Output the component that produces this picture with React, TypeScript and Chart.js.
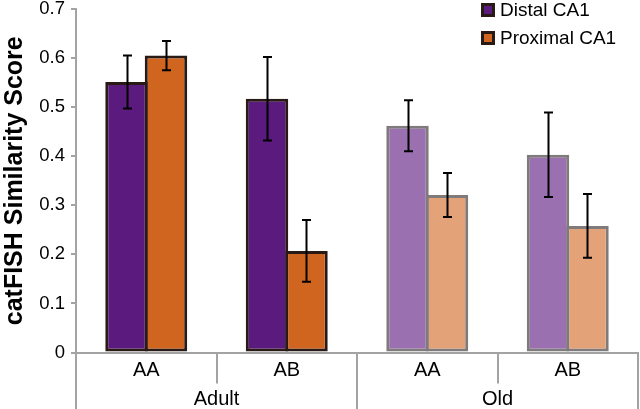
import React, { useEffect, useRef } from "react";
import { Chart, registerables } from "chart.js";

Chart.register(...registerables);

const categories = ["AA", "AB", "AA", "AB"];
const groups = ["Adult", "Old"];
const seriesNames = ["Distal CA1", "Proximal CA1"];
const distal = [0.551, 0.517, 0.462, 0.403];
const distalErr = [0.054, 0.085, 0.052, 0.086];
const proximal = [0.605, 0.207, 0.321, 0.258];
const proximalErr = [0.03, 0.063, 0.045, 0.065];
const yTicks = [0, 0.1, 0.2, 0.3, 0.4, 0.5, 0.6, 0.7];

const FONT = "'Liberation Sans', Arial, sans-serif";
const AXIS = "#a3a3a3";
const distalFill = ["#5b1a7e", "#5b1a7e", "#9b70b1", "#9b70b1"];
const proximalFill = ["#d0651f", "#d0651f", "#e3a278", "#e3a278"];
const borderCols = ["#2a1a16", "#2a1a16", "#7f7b7b", "#7f7b7b"];

const errs = [distalErr, proximalErr];

const errorBarPlugin = {
  id: "errorBars",
  afterDatasetsDraw(chart: any) {
    const ctx = chart.ctx;
    const y = chart.scales.y;
    ctx.save();
    ctx.strokeStyle = "#000";
    ctx.lineWidth = 2;
    chart.data.datasets.forEach((ds: any, di: number) => {
      const meta = chart.getDatasetMeta(di);
      meta.data.forEach((bar: any, i: number) => {
        const v = ds.data[i];
        const e = errs[di][i];
        const yt = y.getPixelForValue(v + e);
        const yb = y.getPixelForValue(v - e);
        const x = Math.round(bar.x) + 0.5;
        ctx.beginPath();
        ctx.moveTo(x, yt);
        ctx.lineTo(x, yb);
        ctx.moveTo(x - 4.5, yt);
        ctx.lineTo(x + 4.5, yt);
        ctx.moveTo(x - 4.5, yb);
        ctx.lineTo(x + 4.5, yb);
        ctx.stroke();
      });
    });
    ctx.restore();
  },
};

const framePlugin = {
  id: "frame",
  afterDraw(chart: any) {
    const ctx = chart.ctx;
    const area = chart.chartArea;
    const H = chart.height;
    const catW = (area.right - area.left) / categories.length;
    ctx.save();
    ctx.strokeStyle = AXIS;
    ctx.lineWidth = 2;
    for (let i = 0; i <= categories.length; i++) {
      const x = Math.round(area.left + i * catW);
      const long = i % 2 === 0;
      ctx.beginPath();
      ctx.moveTo(x, area.bottom);
      ctx.lineTo(x, long ? H : area.bottom + 31);
      ctx.stroke();
    }
    ctx.restore();

    // legend
    const items = [
      { label: seriesNames[0], fill: distalFill[0], y: 10 },
      { label: seriesNames[1], fill: proximalFill[0], y: 38 },
    ];
    ctx.save();
    items.forEach((it) => {
      ctx.fillStyle = "#2a1a16";
      ctx.fillRect(481, it.y - 7, 14, 14);
      ctx.fillStyle = it.fill;
      ctx.fillRect(484, it.y - 4, 8, 8);
      ctx.fillStyle = "#000";
      ctx.font = `19px ${FONT}`;
      ctx.textBaseline = "middle";
      ctx.textAlign = "left";
      ctx.fillText(it.label, 500, it.y + 1);
    });
    ctx.restore();
  },
};

export default function App() {
  const ref = useRef<HTMLCanvasElement>(null);
  useEffect(() => {
    document.body.style.margin = "0";
    const chart = new Chart(ref.current as HTMLCanvasElement, {
      type: "bar",
      data: {
        labels: categories,
        datasets: [
          {
            label: seriesNames[0],
            data: distal,
            backgroundColor: distalFill,
            borderColor: borderCols,
            borderWidth: 3,
            borderSkipped: false,
          },
          {
            label: seriesNames[1],
            data: proximal,
            backgroundColor: proximalFill,
            borderColor: borderCols,
            borderWidth: 3,
            borderSkipped: false,
          },
        ],
      },
      options: {
        responsive: false,
        devicePixelRatio: 1,
        animation: false,
        layout: { padding: { top: 9, right: 2, left: 0, bottom: 0 } },
        datasets: {
          bar: { categoryPercentage: 0.562, barPercentage: 1.076 },
        },
        plugins: {
          legend: { display: false },
          tooltip: { enabled: false },
        },
        scales: {
          x: {
            type: "category",
            position: "bottom",
            weight: 0,
            grid: { display: false },
            border: { display: true, color: AXIS, width: 2 },
            ticks: { font: { size: 20, family: FONT }, color: "#000", padding: -2 },
            afterFit: (s: any) => {
              s.height = 31;
            },
          },
          x2: {
            type: "category",
            labels: groups,
            position: "bottom",
            weight: 1,
            grid: { display: false },
            border: { display: false },
            ticks: { font: { size: 20, family: FONT }, color: "#000", padding: -4 },
            afterFit: (s: any) => {
              s.height = 25.5;
            },
          },
          y: {
            min: 0,
            max: 0.7,
            afterBuildTicks: (s: any) => {
              s.ticks = yTicks.map((v) => ({ value: v }));
            },
            ticks: {
              font: { size: 18.5, family: FONT },
              color: "#000",
              padding: 6,
              callback: (v: any) => (v === 0 ? "0" : Number(v).toFixed(1)),
            },
            grid: { drawOnChartArea: false, tickLength: 5, color: AXIS, lineWidth: 2 },
            border: { color: AXIS, width: 2 },
            title: {
              display: true,
              text: "catFISH Similarity Score",
              font: { size: 25, weight: "bold", family: FONT },
              color: "#000",
              padding: 0,
            },
            afterFit: (s: any) => {
              s.width = 76;
              s.paddingTop = 0;
              s.paddingBottom = 0;
            },
          },
        },
      },
      plugins: [errorBarPlugin, framePlugin],
    } as any);
    return () => chart.destroy();
  }, []);
  return (
    <div style={{ width: 640, height: 409 }}>
      <canvas ref={ref} width={640} height={409} />
    </div>
  );
}
